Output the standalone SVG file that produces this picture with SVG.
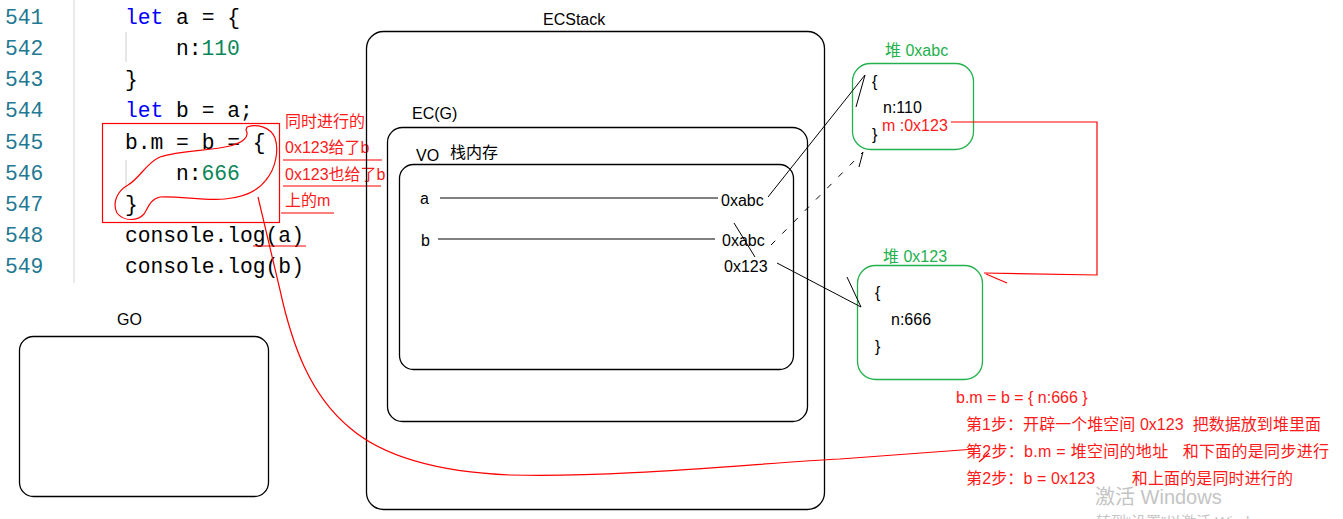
<svg xmlns="http://www.w3.org/2000/svg" width="1343" height="519" viewBox="0 0 1343 519">
<style>
.code{font-family:"Liberation Mono","DejaVu Sans Mono",monospace;font-size:21.3px;fill:#000}
.ln{fill:#237893}
.kw{fill:#0000ff}
.num{fill:#098658}
.t{font-family:"Liberation Sans","Noto Sans CJK SC",sans-serif;font-size:16px;fill:#000}
.r{fill:#ff1a1a}
.g{fill:#22b14c}
.box{fill:none;stroke:#000;stroke-width:1.3}
.gbox{fill:none;stroke:#22b14c;stroke-width:1.3}
.rl{fill:none;stroke:#ff0000;stroke-width:1.2}
.bl{fill:none;stroke:#000;stroke-width:1}
.wm{font-family:"Liberation Sans","Noto Sans CJK SC",sans-serif;fill:#c4c4c4}
</style>
<rect width="1343" height="519" fill="#fff"/>
<g id="code">
<line x1="74" y1="0" x2="74" y2="283" stroke="#e3e3e3" stroke-width="1.5"/>
<line x1="126" y1="32" x2="126" y2="62" stroke="#d6d6d6" stroke-width="1.2"/>
<line x1="126" y1="160" x2="126" y2="190" stroke="#d6d6d6" stroke-width="1.2"/>
<text class="code ln" x="5" y="24">541</text>
<text class="code ln" x="5" y="55">542</text>
<text class="code ln" x="5" y="86">543</text>
<text class="code ln" x="5" y="117">544</text>
<text class="code ln" x="5" y="149">545</text>
<text class="code ln" x="5" y="180">546</text>
<text class="code ln" x="5" y="211">547</text>
<text class="code ln" x="5" y="242">548</text>
<text class="code ln" x="5" y="273">549</text>
<text class="code" x="125" y="24" xml:space="preserve"><tspan class="kw">let</tspan> a = {</text>
<text class="code" x="176" y="55">n:<tspan class="num">110</tspan></text>
<text class="code" x="125" y="86">}</text>
<text class="code" x="125" y="117" xml:space="preserve"><tspan class="kw">let</tspan> b = a;</text>
<text class="code" x="125" y="149" xml:space="preserve">b.m = b = {</text>
<text class="code" x="176" y="180">n:<tspan class="num">666</tspan></text>
<text class="code" x="125" y="211">}</text>
<text class="code" x="125" y="242">console.log(a)</text>
<text class="code" x="125" y="273">console.log(b)</text>
</g>
<g id="code-notes">
<rect x="102.5" y="123.5" width="177" height="99" class="rl"/>
<path class="rl" d="M247,127 C256,124 270,126 275,138 C279,150 276,168 266,180 C258,191 245,197 225,199 C205,201 180,196 160,197 C150,199 148,208 144,214 C138,221 124,222 117,213 C112,203 117,191 128,185 C140,178 146,163 160,157 C180,150 210,151 230,146 C242,143 250,137 246,130 Z"/>
<text class="t r" x="285" y="127">同时进行的</text>
<text class="t r" x="285" y="153">0x123给了b</text>
<text class="t r" x="285" y="180">0x123也给了b</text>
<text class="t r" x="285" y="206">上的m</text>
<line class="rl" x1="283" y1="160" x2="382" y2="160"/>
<line class="rl" x1="283" y1="186" x2="381" y2="186"/>
<line class="rl" x1="281" y1="213" x2="334" y2="213"/>
<line class="rl" x1="253" y1="246" x2="306" y2="246"/>
</g>
<g id="ecstack">
<rect class="box" x="366.5" y="31.5" width="458" height="478" rx="17"/>
<text class="t" x="543" y="25">ECStack</text>
</g>
<g id="ecg">
<rect class="box" x="387.5" y="127.5" width="420" height="294" rx="15"/>
<text class="t" x="412" y="119">EC(G)</text>
</g>
<g id="vo">
<rect class="box" x="399.5" y="164.5" width="394" height="205" rx="14"/>
<text class="t" x="416" y="161">VO</text>
<text class="t" x="450" y="158">栈内存</text>
<text class="t" x="420" y="204">a</text>
<text class="t" x="421" y="246">b</text>
<text class="t" x="721" y="206">0xabc</text>
<text class="t" x="722" y="246">0xabc</text>
<text class="t" x="724" y="272">0x123</text>
</g>
<g id="go">
<rect class="box" x="19.5" y="336.5" width="249" height="160" rx="14"/>
<text class="t" x="117" y="325">GO</text>
</g>
<g id="heap-abc">
<rect class="gbox" x="852.5" y="63.5" width="121" height="86" rx="18"/>
<text class="t g" x="885" y="56">堆 0xabc</text>
<text class="t" x="872" y="87">{</text>
<text class="t" x="883" y="113">n:110</text>
<text class="t r" x="882" y="131">m :0x123</text>
<text class="t" x="872" y="140">}</text>
</g>
<g id="heap-123">
<rect class="gbox" x="857.5" y="265.5" width="125" height="114" rx="18"/>
<text class="t g" x="883" y="262">堆 0x123</text>
<text class="t" x="875" y="298">{</text>
<text class="t" x="891" y="325">n:666</text>
<text class="t" x="875" y="352">}</text>
</g>
<g id="connectors">
<line class="bl" x1="440" y1="198" x2="718" y2="198"/>
<line class="bl" x1="438" y1="239" x2="715" y2="239"/>
<line class="bl" x1="734" y1="223" x2="755" y2="257"/>
<line class="bl" x1="768" y1="197" x2="865" y2="75"/>
<line class="bl" x1="856" y1="107" x2="865" y2="75"/>
<line class="bl" x1="771" y1="245" x2="863" y2="152" stroke-dasharray="6,10"/>
<line class="bl" x1="859" y1="167" x2="863" y2="152"/>
<line class="bl" x1="777" y1="263" x2="861" y2="307"/>
<line class="bl" x1="847" y1="277" x2="861" y2="307"/>
<polyline class="rl" points="951,122 1097,122 1097,275 984,273"/>
<line class="rl" x1="986" y1="274" x2="1007" y2="283"/>
<path class="rl" d="M258,197 L280,290 C292,345 310,395 350,428 C385,458 440,472 510,475 C620,478 760,463 840,459 L975,449"/>
<line class="rl" x1="989" y1="453" x2="979" y2="462"/>
</g>
<g id="steps">
<text class="t r" x="956" y="403">b.m = b = { n:666 }</text>
<text class="t r" x="966" y="430" textLength="355" xml:space="preserve">第1步：开辟一个堆空间 0x123  把数据放到堆里面</text>
<text class="t r" x="966" y="457" textLength="363" xml:space="preserve">第2步：b.m = 堆空间的地址   和下面的是同步进行</text>
<text class="t r" x="966" y="484" textLength="327" xml:space="preserve">第2步：b = 0x123        和上面的是同时进行的</text>
</g>
<g id="watermark">
<text class="wm" x="1095" y="504" font-size="20">激活 Windows</text>
<text class="wm" x="1096" y="527" font-size="15">转到“设置”以激活 Windows。</text>
</g>
</svg>
